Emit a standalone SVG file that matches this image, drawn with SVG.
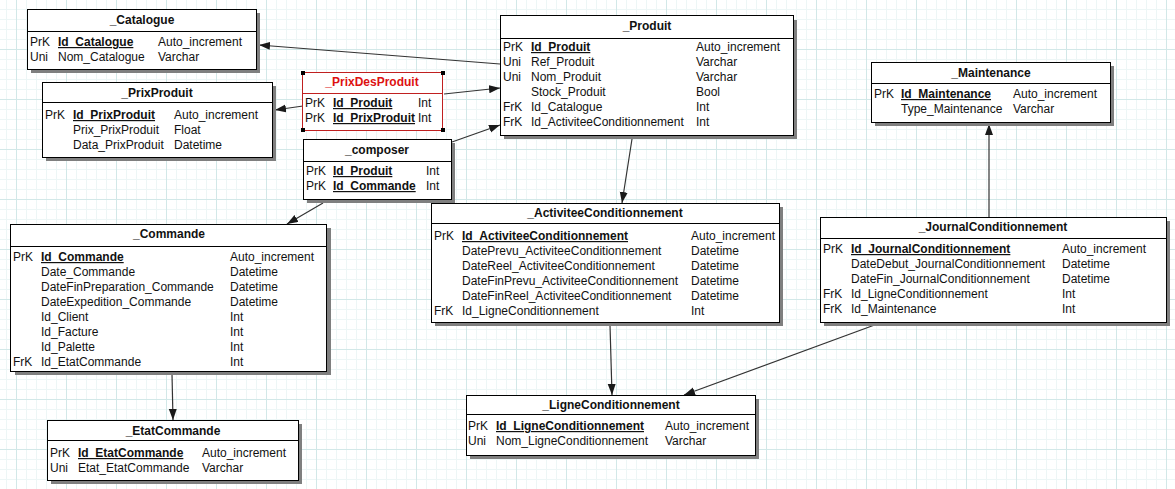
<svg xmlns="http://www.w3.org/2000/svg" width="1175" height="489" viewBox="0 0 1175 489">
<defs>
<pattern id="minor" patternUnits="userSpaceOnUse" x="6" y="-1" width="10" height="10">
<path d="M0.5 0V10M0 0.5H10" stroke="#edf6f6" stroke-width="1" fill="none"/>
</pattern>
<pattern id="major" patternUnits="userSpaceOnUse" x="16" y="-1" width="50" height="50">
<path d="M0.5 0V50M0 0.5H50" stroke="#d2e8e8" stroke-width="1" fill="none"/>
</pattern>
<marker id="arr" markerUnits="userSpaceOnUse" markerWidth="12" markerHeight="10" refX="11" refY="4" orient="auto">
<path d="M0 0L11 4L0 8Z" fill="#1a1a1a"/>
</marker>
</defs>
<style>
text{font-family:"Liberation Sans",Arial,sans-serif;font-size:12px;fill:#111}
.t{font-weight:bold;text-anchor:middle}
.k{font-weight:bold;text-decoration:underline}
.box{fill:#fff;stroke:#000;stroke-width:1}
.sh{fill:#7f7f7f}
.sep{stroke:#000;stroke-width:1}
.red{fill:#fff;stroke:#c02020;stroke-width:1}
.rsep{stroke:#c02020;stroke-width:1}
.rt{fill:#dd1111}
.h{fill:#000}
.c{stroke:#333;stroke-width:1.2;fill:none;marker-end:url(#arr)}
</style>
<rect width="1175" height="489" fill="#fff"/>
<rect width="1175" height="489" fill="url(#minor)"/>
<rect width="1175" height="489" fill="url(#major)"/>

<g id="connectors">
<line class="c" x1="500" y1="64" x2="259" y2="45"/>
<line class="c" x1="303" y1="106" x2="275" y2="110"/>
<line class="c" x1="444" y1="94" x2="500" y2="88"/>
<line class="c" x1="452" y1="142" x2="500" y2="125"/>
<line class="c" x1="323" y1="203" x2="287" y2="224"/>
<line class="c" x1="632" y1="139" x2="622" y2="203"/>
<line class="c" x1="989" y1="217" x2="989" y2="124"/>
<line class="c" x1="172" y1="374" x2="173" y2="420"/>
<line class="c" x1="610" y1="325" x2="612" y2="395"/>
<line class="c" x1="880" y1="323" x2="684" y2="395"/>
</g>

<g id="catalogue">
<rect class="sh" x="31" y="13" width="229" height="60"/>
<rect class="box" x="27.5" y="9.5" width="229" height="60"/>
<line class="sep" x1="27.5" y1="31.5" x2="256.5" y2="31.5"/>
<text class="t" x="142" y="24">_Catalogue</text>
<text x="30" y="46">PrK</text><text class="k" x="58" y="46">Id_Catalogue</text><text x="158" y="46">Auto_increment</text>
<text x="30" y="61">Uni</text><text x="58" y="61">Nom_Catalogue</text><text x="158" y="61">Varchar</text>
</g>

<g id="prixproduit">
<rect class="sh" x="46" y="86" width="230" height="75"/>
<rect class="box" x="42.5" y="82.5" width="230" height="75"/>
<line class="sep" x1="42.5" y1="102.5" x2="272.5" y2="102.5"/>
<text class="t" x="157" y="97">_PrixProduit</text>
<text x="45" y="119">PrK</text><text class="k" x="73" y="119">Id_PrixProduit</text><text x="174" y="119">Auto_increment</text>
<text x="73" y="134">Prix_PrixProduit</text><text x="174" y="134">Float</text>
<text x="73" y="149">Data_PrixProduit</text><text x="174" y="149">Datetime</text>
</g>

<g id="prixdesproduit">
<rect class="red" x="302.5" y="72.5" width="140" height="58"/>
<line class="rsep" x1="302.5" y1="93.5" x2="442.5" y2="93.5"/>
<rect class="h" x="301" y="71" width="4" height="4"/><rect class="h" x="441" y="71" width="4" height="4"/>
<rect class="h" x="301" y="128" width="4" height="4"/><rect class="h" x="441" y="128" width="4" height="4"/>
<text class="t rt" x="372" y="86">_PrixDesProduit</text>
<text x="305" y="107">PrK</text><text class="k" x="333" y="107">Id_Produit</text><text x="418" y="107">Int</text>
<text x="305" y="122">PrK</text><text class="k" x="333" y="122">Id_PrixProduit</text><text x="418" y="122">Int</text>
</g>

<g id="composer">
<rect class="sh" x="307" y="143" width="148" height="60"/>
<rect class="box" x="303.5" y="139.5" width="148" height="60"/>
<line class="sep" x1="303.5" y1="161.5" x2="451.5" y2="161.5"/>
<text class="t" x="377" y="154">_composer</text>
<text x="306" y="175">PrK</text><text class="k" x="333" y="175">Id_Produit</text><text x="426" y="175">Int</text>
<text x="306" y="190">PrK</text><text class="k" x="333" y="190">Id_Commande</text><text x="426" y="190">Int</text>
</g>

<g id="produit">
<rect class="sh" x="504" y="20" width="293" height="119"/>
<rect class="box" x="500.5" y="15.5" width="293" height="120"/>
<line class="sep" x1="500.5" y1="38.5" x2="793.5" y2="38.5"/>
<text class="t" x="647" y="30">_Produit</text>
<text x="503" y="51">PrK</text><text class="k" x="531" y="51">Id_Produit</text><text x="696" y="51">Auto_increment</text>
<text x="503" y="66">Uni</text><text x="531" y="66">Ref_Produit</text><text x="696" y="66">Varchar</text>
<text x="503" y="81">Uni</text><text x="531" y="81">Nom_Produit</text><text x="696" y="81">Varchar</text>
<text x="531" y="96">Stock_Produit</text><text x="696" y="96">Bool</text>
<text x="503" y="111">FrK</text><text x="531" y="111">Id_Catalogue</text><text x="696" y="111">Int</text>
<text x="503" y="126">FrK</text><text x="531" y="126">Id_ActiviteeConditionnement</text><text x="696" y="126">Int</text>
</g>

<g id="maintenance">
<rect class="sh" x="875" y="66" width="239" height="60"/>
<rect class="box" x="871.5" y="62.5" width="239" height="60"/>
<line class="sep" x1="871.5" y1="83.5" x2="1110.5" y2="83.5"/>
<text class="t" x="991" y="77">_Maintenance</text>
<text x="874" y="98">PrK</text><text class="k" x="901" y="98">Id_Maintenance</text><text x="1013" y="98">Auto_increment</text>
<text x="901" y="113">Type_Maintenance</text><text x="1013" y="113">Varchar</text>
</g>

<g id="commande">
<rect class="sh" x="15" y="228" width="316" height="147"/>
<rect class="box" x="10.5" y="224.5" width="316" height="147"/>
<line class="sep" x1="10.5" y1="246.5" x2="326.5" y2="246.5"/>
<text class="t" x="169" y="238">_Commande</text>
<text x="13" y="261">PrK</text><text class="k" x="41" y="261">Id_Commande</text><text x="230" y="261">Auto_increment</text>
<text x="41" y="276">Date_Commande</text><text x="230" y="276">Datetime</text>
<text x="41" y="291">DateFinPreparation_Commande</text><text x="230" y="291">Datetime</text>
<text x="41" y="306">DateExpedition_Commande</text><text x="230" y="306">Datetime</text>
<text x="41" y="321">Id_Client</text><text x="230" y="321">Int</text>
<text x="41" y="336">Id_Facture</text><text x="230" y="336">Int</text>
<text x="41" y="351">Id_Palette</text><text x="230" y="351">Int</text>
<text x="13" y="366">FrK</text><text x="41" y="366">Id_EtatCommande</text><text x="230" y="366">Int</text>
</g>

<g id="activitee">
<rect class="sh" x="435" y="207" width="348" height="119"/>
<rect class="box" x="431.5" y="203.5" width="348" height="119"/>
<line class="sep" x1="431.5" y1="223.5" x2="779.5" y2="223.5"/>
<text class="t" x="605" y="217">_ActiviteeConditionnement</text>
<text x="434" y="240">PrK</text><text class="k" x="462" y="240">Id_ActiviteeConditionnement</text><text x="691" y="240">Auto_increment</text>
<text x="462" y="255">DatePrevu_ActiviteeConditionnement</text><text x="691" y="255">Datetime</text>
<text x="462" y="270">DateReel_ActiviteeConditionnement</text><text x="691" y="270">Datetime</text>
<text x="462" y="285">DateFinPrevu_ActiviteeConditionnement</text><text x="691" y="285">Datetime</text>
<text x="462" y="300">DateFinReel_ActiviteeConditionnement</text><text x="691" y="300">Datetime</text>
<text x="434" y="315">FrK</text><text x="462" y="315">Id_LigneConditionnement</text><text x="691" y="315">Int</text>
</g>

<g id="journal">
<rect class="sh" x="824" y="221" width="346" height="105"/>
<rect class="box" x="820.5" y="217.5" width="346" height="105"/>
<line class="sep" x1="820.5" y1="238.5" x2="1166.5" y2="238.5"/>
<text class="t" x="993" y="231">_JournalConditionnement</text>
<text x="823" y="253">PrK</text><text class="k" x="851" y="253">Id_JournalConditionnement</text><text x="1062" y="253">Auto_increment</text>
<text x="851" y="268">DateDebut_JournalConditionnement</text><text x="1062" y="268">Datetime</text>
<text x="851" y="283">DateFin_JournalConditionnement</text><text x="1062" y="283">Datetime</text>
<text x="823" y="298">FrK</text><text x="851" y="298">Id_LigneConditionnement</text><text x="1062" y="298">Int</text>
<text x="823" y="313">FrK</text><text x="851" y="313">Id_Maintenance</text><text x="1062" y="313">Int</text>
</g>

<g id="etatcommande">
<rect class="sh" x="51" y="424" width="251" height="60"/>
<rect class="box" x="47.5" y="420.5" width="251" height="60"/>
<line class="sep" x1="47.5" y1="440.5" x2="298.5" y2="440.5"/>
<text class="t" x="173" y="435">_EtatCommande</text>
<text x="50" y="457">PrK</text><text class="k" x="78" y="457">Id_EtatCommande</text><text x="202" y="457">Auto_increment</text>
<text x="50" y="472">Uni</text><text x="78" y="472">Etat_EtatCommande</text><text x="202" y="472">Varchar</text>
</g>

<g id="ligne">
<rect class="sh" x="470" y="399" width="289" height="60"/>
<rect class="box" x="466.5" y="395.5" width="289" height="60"/>
<line class="sep" x1="466.5" y1="414.5" x2="755.5" y2="414.5"/>
<text class="t" x="611" y="409">_LigneConditionnement</text>
<text x="468" y="430">PrK</text><text class="k" x="496" y="430">Id_LigneConditionnement</text><text x="665" y="430">Auto_increment</text>
<text x="468" y="445">Uni</text><text x="496" y="445">Nom_LigneConditionnement</text><text x="665" y="445">Varchar</text>
</g>
</svg>
